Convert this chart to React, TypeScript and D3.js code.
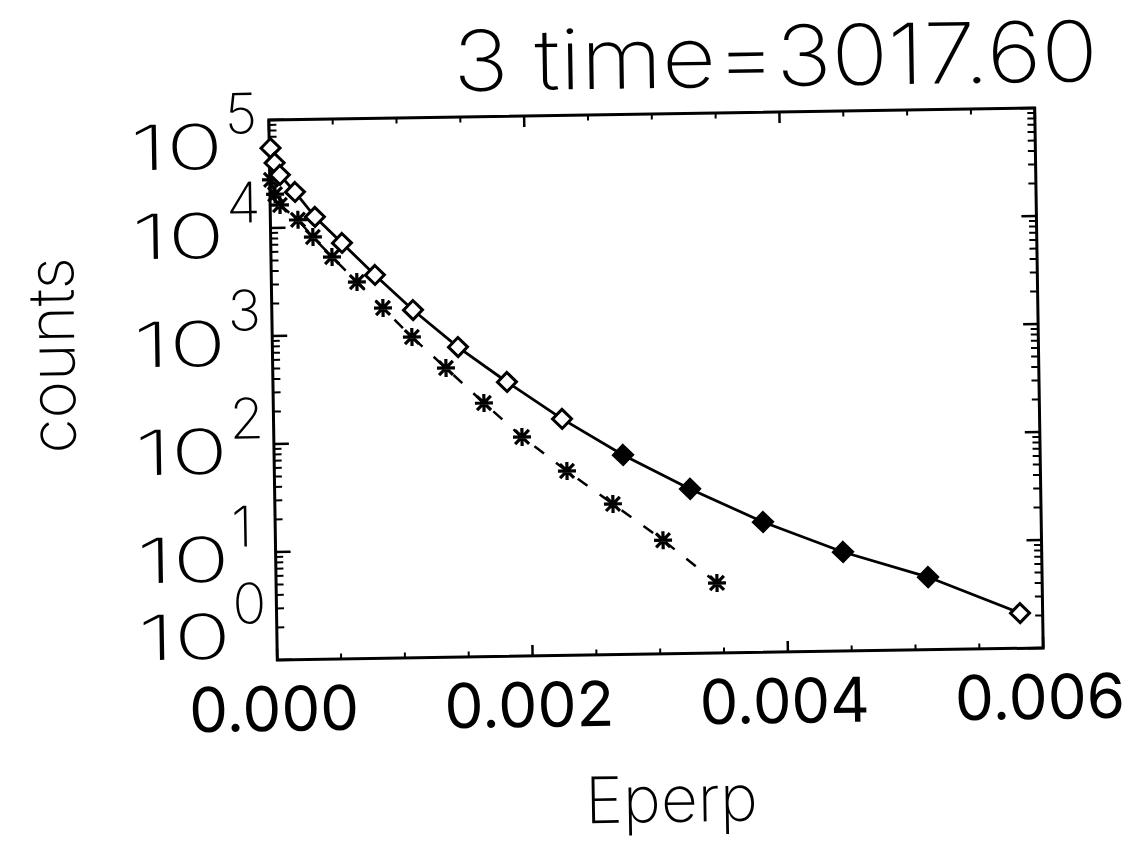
import React, { useLayoutEffect, useRef, useState } from "react";
import * as d3 from "d3";

// ---- data ----
const diamondX = [0.00001, 0.00004, 0.00008, 0.000196, 0.000349, 0.000558, 0.000812, 0.001106, 0.001454, 0.001833, 0.00226, 0.002733, 0.003254, 0.003821, 0.004444, 0.005107, 0.005823];
const diamondY = [55000, 40000, 30900, 21400, 12500, 7100, 3550, 1660, 743, 347, 155, 70.4, 33.4, 16.1, 8.27, 4.71, 2.12];
const filledDiamonds = [11, 12, 13, 14, 15];

const starX = [0.00001, 0.00004, 0.0000768, 0.000216, 0.000331, 0.000478, 0.00067, 0.000871, 0.001094, 0.001357, 0.00165, 0.001944, 0.002292, 0.002648, 0.003036, 0.003453];
const starY = [28000, 20500, 16300, 11800, 8150, 5290, 3080, 1750, 934, 477, 223, 107, 51, 24.9, 11.3, 4.45];

const xTickValues = [0, 0.002, 0.004, 0.006];
const xTickLabels = ["0.000", "0.002", "0.004", "0.006"];
const yTickValues = [1, 10, 100, 1000, 10000, 100000];
const yTickExponents = ["0", "1", "2", "3", "4", "5"];

const titleText = "3 time=3017.60";
const xTitle = "Eperp";
const yTitle = "counts";

// ---- layout ----
const W = 1140, H = 851;
const L = 273, R = 1039, T = 114, B = 654;
const FONT = "Inter, 'DejaVu Sans', 'Liberation Sans', sans-serif";
const TITLE_LEFT = 458, TITLE_WIDTH = 645;

export default function App() {
  const titleRef = useRef<SVGTextElement>(null);
  const [titleScale, setTitleScale] = useState(0.9);

  useLayoutEffect(() => {
    const el = titleRef.current;
    if (el) {
      const len = el.getComputedTextLength();
      if (len > 0) setTitleScale(TITLE_WIDTH / len);
    }
  }, []);

  const x = d3.scaleLinear().domain([0, 0.006]).range([L, R]);
  const y = d3.scaleLog().domain([1, 1e5]).range([B, T]);

  const xMinor = d3.range(0, 0.0060001, 0.0005).filter(
    (v) => !xTickValues.some((m) => Math.abs(m - v) < 1e-9)
  );
  const yMinor: number[] = [];
  for (let e = 0; e < 5; e++) for (let k = 2; k <= 9; k++) yMinor.push(k * Math.pow(10, e));

  const line = d3.line<[number, number]>().x((d) => x(d[0])).y((d) => y(d[1]));
  const dPts: [number, number][] = diamondX.map((v, i) => [v, diamondY[i]]);
  const sPts: [number, number][] = starX.map((v, i) => [v, starY[i]]);

  const xMajLen = 11, xMinLen = 5.5, yMajLen = 15, yMinLen = 7.5;

  const yLabelOffset = (i: number) => (i === 0 ? -2 : i === yTickValues.length - 1 ? 48 : 29);

  return (
    <svg width={W} height={H} style={{ position: "absolute", left: 0, top: 0, background: "#fff" }}>
      <rect width={W} height={H} fill="#fff" />
      <g transform={`rotate(-0.9, ${(L + R) / 2}, ${(T + B) / 2})`}>
        {/* title */}
        <g transform={`translate(${TITLE_LEFT}, 88) scale(${titleScale}, 1)`}>
          <text ref={titleRef} x={0} y={0} fontFamily={FONT} fontWeight={200} fontSize={84} fill="#000">
            {titleText}
          </text>
        </g>

        {/* frame */}
        <rect x={L} y={T} width={R - L} height={B - T} fill="none" stroke="#000" strokeWidth={3} />

        {/* x ticks bottom & top */}
        {xTickValues.map((v) => (
          <g key={"xm" + v}>
            <line x1={x(v)} x2={x(v)} y1={B} y2={B - xMajLen} stroke="#000" strokeWidth={2.5} />
            <line x1={x(v)} x2={x(v)} y1={T} y2={T + xMajLen} stroke="#000" strokeWidth={2.5} />
          </g>
        ))}
        {xMinor.map((v) => (
          <g key={"xn" + v}>
            <line x1={x(v)} x2={x(v)} y1={B} y2={B - xMinLen} stroke="#000" strokeWidth={2} />
            <line x1={x(v)} x2={x(v)} y1={T} y2={T + xMinLen} stroke="#000" strokeWidth={2} />
          </g>
        ))}

        {/* y ticks left & right */}
        {yTickValues.map((v) => (
          <g key={"ym" + v}>
            <line x1={L} x2={L + yMajLen} y1={y(v)} y2={y(v)} stroke="#000" strokeWidth={2.5} />
            <line x1={R} x2={R - yMajLen} y1={y(v)} y2={y(v)} stroke="#000" strokeWidth={2.5} />
          </g>
        ))}
        {yMinor.map((v) => (
          <g key={"yn" + v}>
            <line x1={L} x2={L + yMinLen} y1={y(v)} y2={y(v)} stroke="#000" strokeWidth={2} />
            <line x1={R} x2={R - yMinLen} y1={y(v)} y2={y(v)} stroke="#000" strokeWidth={2} />
          </g>
        ))}

        {/* x tick labels */}
        {xTickValues.map((v, i) => (
          <text key={"xl" + v} x={x(v) - 4} y={725} textAnchor="middle" fontFamily={FONT} fontWeight={400} fontSize={62} textLength={170} lengthAdjust="spacingAndGlyphs" fill="#000">
            {xTickLabels[i]}
          </text>
        ))}

        {/* y tick labels */}
        {yTickValues.map((v, i) => (
          <g key={"yl" + v}>
            <text x={134} y={y(v) + yLabelOffset(i)} fontFamily={FONT} fontWeight={200} fontSize={62} textLength={93} lengthAdjust="spacingAndGlyphs" fill="#000">
              10
            </text>
            <text x={229} y={y(v) + yLabelOffset(i) - 35} fontFamily={FONT} fontWeight={200} fontSize={56} fill="#000">
              {yTickExponents[i]}
            </text>
          </g>
        ))}

        {/* axis titles */}
        <text x={(L + R) / 2 + 9} y={822} textAnchor="middle" fontFamily={FONT} fontWeight={200} fontSize={64} fill="#000">
          {xTitle}
        </text>
        <text transform={`translate(75, 346) rotate(-90)`} textAnchor="middle" fontFamily={FONT} fontWeight={200} fontSize={64} fill="#000">
          {yTitle}
        </text>

        {/* series */}
        <path d={line(dPts) || ""} fill="none" stroke="#000" strokeWidth={2.8} />
        <path d={line(sPts) || ""} fill="none" stroke="#000" strokeWidth={2.5} strokeDasharray="12,15" />

        {sPts.map((p, i) => (
          <path key={"s" + i} transform={`translate(${x(p[0])},${y(p[1])})`} d="M-9,0H9M0,-9V9M-7,-7L7,7M-7,7L7,-7" stroke="#000" strokeWidth={3.2} fill="none" />
        ))}
        {dPts.map((p, i) => (
          <path key={"d" + i} transform={`translate(${x(p[0])},${y(p[1])})`} d="M0,-9.5L9.5,0L0,9.5L-9.5,0Z" stroke="#000" strokeWidth={3} fill={filledDiamonds.includes(i) ? "#000" : "#fff"} />
        ))}
      </g>
    </svg>
  );
}
